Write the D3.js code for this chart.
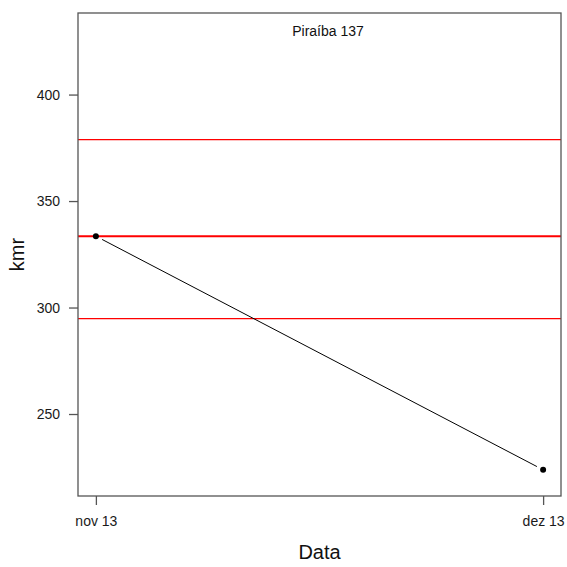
<!DOCTYPE html>
<html><head><meta charset="utf-8">
<script src="https://cdn.jsdelivr.net/npm/d3@7"></script>
<style>body{margin:0;background:#fff}svg{display:block}text{font-family:"Liberation Sans",Arial,sans-serif}</style>
</head><body>
<script>
const dates = ["2013-11-01","2013-12-01"];
const tickLabels = ["nov 13","dez 13"];
const kmr = [333.5, 223.8];
const refLines = [378.8, 294.8];
const meanLine = [333.5];
const yTicks = [250,300,350,400];
const title = "Piraíba 137";

const W=567,H=567;
const m={l:78,r:6,t:13,b:71};
const svg=d3.select("body").append("svg").attr("width",W).attr("height",H);
const parse=d3.timeParse("%Y-%m-%d");
const dd=dates.map(parse);
const span=dd[1]-dd[0];
const x=d3.scaleTime().domain([new Date(+dd[0]-span*0.04),new Date(+dd[1]+span*0.04)]).range([m.l,W-m.r]);
const y=d3.scaleLinear().domain([211.5,438.3]).range([H-m.b,m.t]);

const g=svg.append("g");
// ref lines
g.selectAll("line.ref").data(refLines).join("line").attr("class","ref")
 .attr("x1",m.l).attr("x2",W-m.r).attr("y1",d=>y(d)).attr("y2",d=>y(d))
 .style("stroke","#ff0000").style("stroke-width","1.2px");
g.selectAll("line.mean").data(meanLine).join("line").attr("class","mean")
 .attr("x1",m.l).attr("x2",W-m.r).attr("y1",d=>y(d)).attr("y2",d=>y(d))
 .style("stroke","#ff0000").style("stroke-width","2px");

const pts=dd.map((d,i)=>({d,v:kmr[i]}));
// line with small gap near points, like R type "b"
const gap=7;
for(let i=0;i<pts.length-1;i++){
  const x1=x(pts[i].d),y1=y(pts[i].v),x2=x(pts[i+1].d),y2=y(pts[i+1].v);
  const L=Math.hypot(x2-x1,y2-y1),ux=(x2-x1)/L,uy=(y2-y1)/L;
  g.append("line").attr("class","conn").attr("x1",x1+ux*gap).attr("y1",y1+uy*gap).attr("x2",x2-ux*gap).attr("y2",y2-uy*gap)
   .style("stroke","#000").style("stroke-width","1px");
}
g.selectAll("circle.pt").data(pts).join("circle").attr("class","pt")
 .attr("cx",d=>x(d.d)).attr("cy",d=>y(d.v)).attr("r",3).attr("fill","#000");

// box
svg.append("rect").attr("x",m.l).attr("y",m.t).attr("width",W-m.r-m.l).attr("height",H-m.b-m.t)
 .attr("fill","none").attr("stroke","#555").attr("stroke-width",1.3);

// y axis
const ya=svg.append("g").attr("transform",`translate(${m.l},0)`)
 .call(d3.axisLeft(y).tickValues(yTicks).tickSize(9).tickPadding(9).tickFormat(d3.format("d")));
ya.select(".domain").remove();
ya.selectAll(".tick line").attr("stroke","#555").attr("stroke-width",1.3);
ya.selectAll("text").attr("font-size",14).attr("fill","#1a1a1a").style("font-family","Liberation Sans, Arial, sans-serif");

// x axis
const xa=svg.append("g").attr("transform",`translate(0,${H-m.b})`)
 .call(d3.axisBottom(x).tickValues(dd).tickSize(9).tickPadding(11).tickFormat((d,i)=>tickLabels[i]));
xa.select(".domain").remove();
xa.selectAll(".tick line").attr("stroke","#555").attr("stroke-width",1.3);
xa.selectAll("text").attr("font-size",14).attr("fill","#1a1a1a").style("font-family","Liberation Sans, Arial, sans-serif");

svg.append("text").attr("x",(m.l+W-m.r)/2).attr("y",559).attr("text-anchor","middle")
 .attr("font-size",20).attr("fill","#111").text("Data");
svg.append("text").attr("transform",`translate(24,${(m.t+H-m.b)/2}) rotate(-90)`).attr("text-anchor","middle")
 .attr("font-size",20).attr("fill","#111").text("kmr");
svg.append("text").attr("x",328).attr("y",36).attr("text-anchor","middle")
 .attr("font-size",14).attr("fill","#111").text(title);
</script>
</body></html>
